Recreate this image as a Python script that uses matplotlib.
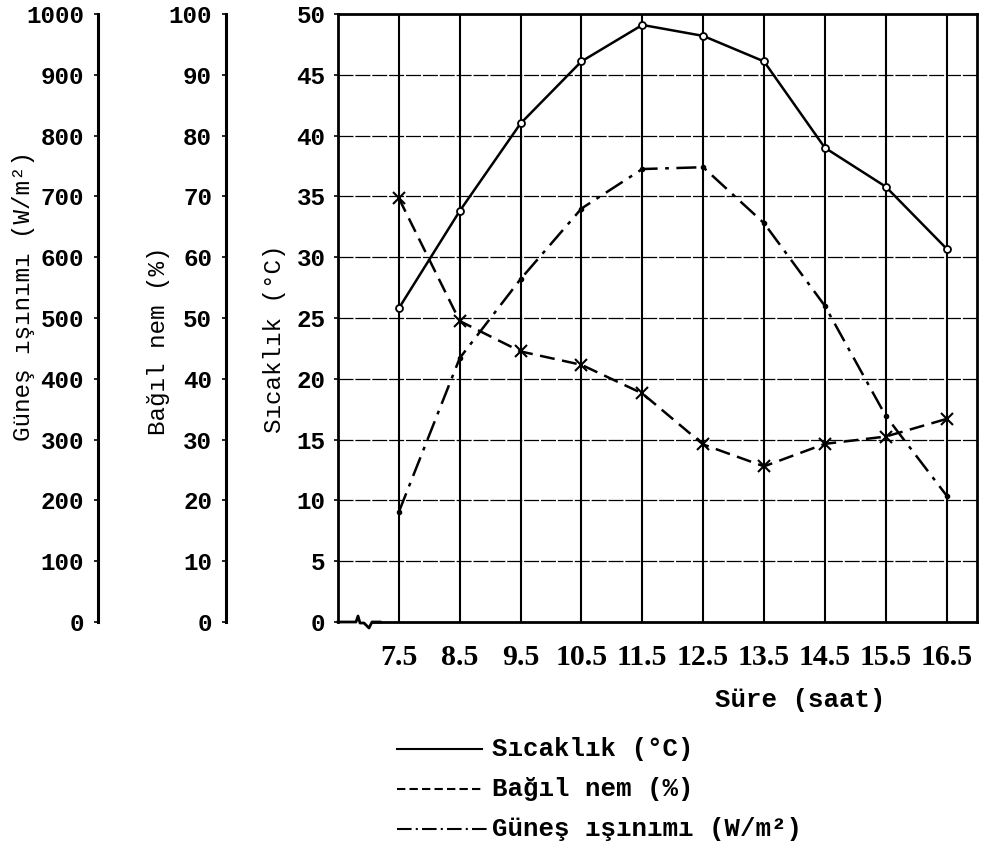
import numpy as np
import matplotlib
matplotlib.use("Agg")
import matplotlib.pyplot as plt
from matplotlib.lines import Line2D

# data
hours = [7.5, 8.5, 9.5, 10.5, 11.5, 12.5, 13.5, 14.5, 15.5, 16.5]
hour_labels = ['7.5', '8.5', '9.5', '10.5', '11.5', '12.5', '13.5', '14.5', '15.5', '16.5']
sicaklik = [25.8, 33.8, 41.0, 46.1, 49.1, 48.2, 46.1, 39.0, 35.8, 30.7]
bagil_nem = [69.7, 49.5, 44.5, 42.3, 37.6, 29.2, 25.6, 29.3, 30.5, 33.4]
gunes = [181, 434, 564, 680, 745, 748, 656, 520, 339, 208]

mono = 'Liberation Mono'
serif = 'Liberation Serif'

W, H = 981, 851
fig = plt.figure(figsize=(W / 100, H / 100), dpi=100)
fig.patch.set_facecolor('white')

# main axes (pixel box of the reference)
left, right, top, bottom = 338, 977, 14, 622
ax = fig.add_axes([left / W, 1 - bottom / H, (right - left) / W, (bottom - top) / H])
ax.set_xlim(6.5, 17)
ax.set_ylim(0, 50)
ax.set_yticks(range(0, 51, 5))
ax.set_xticks(hours)
ax.set_xticklabels(hour_labels, fontfamily=serif, fontweight='bold', fontsize=21.5)
ax.tick_params(axis='x', length=0, pad=16)
ax.tick_params(axis='y', direction='out', length=3, width=1.2, pad=6)
for lab in ax.get_yticklabels():
    lab.set_fontfamily(mono)
    lab.set_fontweight('bold')
    lab.set_fontsize(17.5)
for sp in ax.spines.values():
    sp.set_linewidth(2.0)

# grid
for h in hours:
    ax.axvline(h, color='black', lw=1.5, zorder=1)
for v in range(5, 50, 5):
    ax.axhline(v, color='black', lw=0.9, ls=(0, (12, 1.5)), zorder=1)

# axis break mark at the bottom left
def px2x(px):
    return 6.5 + (px - left) / ((right - left) / 10.5)
ax.spines['bottom'].set_bounds(px2x(372), 17)
zig_px = [338, 356, 358, 360, 364, 369, 372, 380]
zig_dy = [0, 0, 6, -1, -1, -6, 0, 0]
ax.plot([px2x(p) for p in zig_px], [d / (bottom - top) for d in zig_dy],
        transform=ax.get_xaxis_transform(), color='black', lw=2, clip_on=False)

# humidity and solar axes on the left
ax_rh = ax.twinx()
ax_sol = ax.twinx()
for a, off, lim, ticks in [(ax_rh, 112, 100, range(0, 101, 10)),
                           (ax_sol, 240, 1000, range(0, 1001, 100))]:
    a.spines['left'].set_position(('axes', -off / (right - left)))
    a.spines['left'].set_visible(True)
    a.spines['left'].set_linewidth(2.2)
    for s in ['right', 'top', 'bottom']:
        a.spines[s].set_visible(False)
    a.yaxis.set_ticks_position('left')
    a.yaxis.set_label_position('left')
    a.set_ylim(0, lim)
    a.set_yticks(list(ticks))
    a.tick_params(axis='y', direction='out', length=3, width=1.2, pad=7)
    for lab in a.get_yticklabels():
        lab.set_fontfamily(mono)
        lab.set_fontweight('bold')
        lab.set_fontsize(17.5)

# series
ax.plot(hours, sicaklik, color='black', lw=1.8, marker='o', ms=5,
        mfc='white', mec='black', mew=1.3, zorder=5)
ax_rh.plot(hours, bagil_nem, color='black', lw=1.8, ls=(0, (6, 3)),
           marker='x', ms=9, mew=1.5, zorder=5)
ax_sol.plot(hours, gunes, color='black', lw=1.8, ls=(0, (8, 3, 1.5, 3)),
            marker='o', ms=3, zorder=5)

# axis titles
def ylab(px, py, txt):
    ax.text((px - left) / (right - left), (bottom - py) / (bottom - top), txt,
            transform=ax.transAxes, rotation=90, ha='center', va='center',
            fontfamily=mono, fontsize=17.5, clip_on=False)
ylab(24, 296, 'Güneş ışınımı (W/m²)')
ylab(158, 341, 'Bağıl nem (%)')
ylab(275, 339, 'Sıcaklık (°C)')

fig.text(800 / W, 1 - 700 / H, 'Süre (saat)', ha='center', va='center',
         fontfamily=mono, fontweight='bold', fontsize=18.5)

# legend drawn in figure pixels
legend_rows = [('Sıcaklık (°C)', '-', 482),
               ('Bağıl nem (%)', (0, (4, 2)), 484),
               ('Güneş ışınımı (W/m²)', (0, (7, 2, 1, 2)), 488)]
for i, (txt, style, x_end) in enumerate(legend_rows):
    y = 1 - (749 + 40 * i) / H
    fig.add_artist(Line2D([397 / W, x_end / W], [y, y], transform=fig.transFigure,
                          color='black', lw=1.5, ls=style))
    fig.text(492 / W, y, txt, ha='left', va='center', fontfamily=mono,
             fontweight='bold', fontsize=18.5)

fig.savefig('out.png', dpi=100, facecolor='white')
